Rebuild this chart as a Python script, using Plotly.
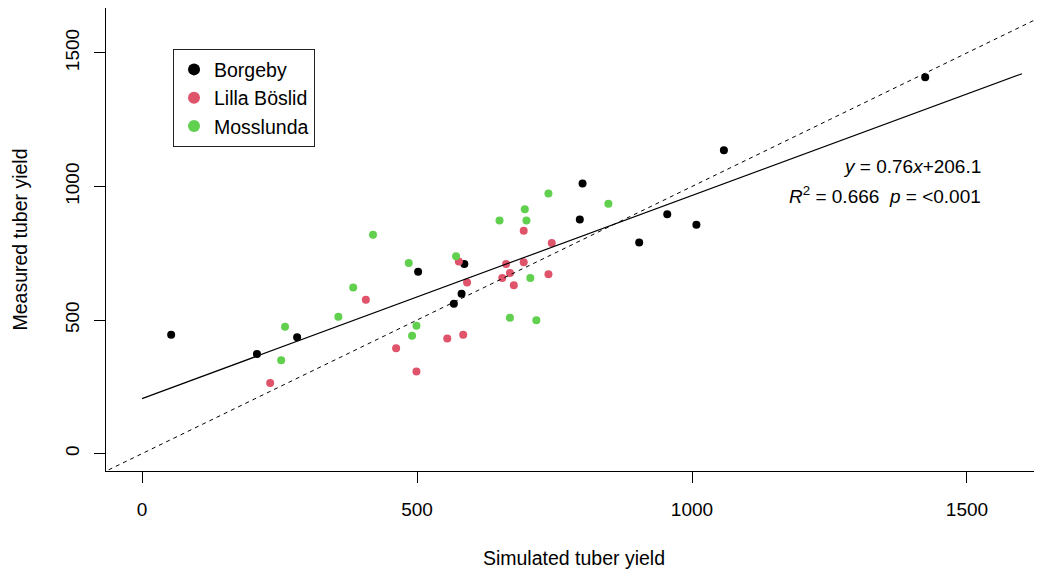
import plotly.graph_objects as go

# ---- data ----
borgeby_x = [53, 209, 282, 502, 567, 581, 586, 796, 801, 904, 955, 1008, 1058, 1424]
borgeby_y = [445, 373, 436, 681, 561, 598, 710, 876, 1011, 790, 896, 857, 1136, 1409]

lilla_x = [233, 407, 462, 499, 555, 584, 576, 591, 655, 662, 669, 676, 694, 694, 739, 745]
lilla_y = [264, 576, 394, 307, 431, 445, 719, 641, 657, 710, 676, 630, 834, 716, 671, 788]

moss_x = [253, 260, 357, 384, 420, 485, 491, 499, 571, 650, 669, 696, 699, 706, 717, 739, 848]
moss_y = [350, 475, 512, 622, 819, 714, 441, 479, 739, 873, 509, 915, 873, 657, 499, 974, 935]

site_names = ["Borgeby", "Lilla Böslid", "Mosslunda"]
site_colors = ["#000000", "#DF536B", "#61D04F"]

fit_slope = 0.76
fit_intercept = 206.1
fit_x = [0, 1600]
one_to_one = [-100, 1700]

x_ticks = [0, 500, 1000, 1500]
y_ticks = [0, 500, 1000, 1500]

FONT = "Liberation Sans, Arial, sans-serif"

fig = go.Figure()

for name, col, xs, ys in zip(site_names, site_colors,
                             [borgeby_x, lilla_x, moss_x],
                             [borgeby_y, lilla_y, moss_y]):
    fig.add_trace(go.Scatter(x=xs, y=ys, mode="markers", name=name,
                             marker=dict(color=col, size=8, line=dict(width=0))))

fig.add_trace(go.Scatter(x=fit_x, y=[fit_slope * v + fit_intercept for v in fit_x],
                         mode="lines", line=dict(color="black", width=1.2),
                         showlegend=False, hoverinfo="skip"))
fig.add_trace(go.Scatter(x=one_to_one, y=one_to_one, mode="lines",
                         line=dict(color="black", width=1, dash="4px,4px"),
                         showlegend=False, hoverinfo="skip"))

fig.add_annotation(x=1529, y=1074, xref="x", yref="y", xanchor="right", yanchor="middle",
                   text="<i>y</i> = 0.76<i>x</i>+206.1", showarrow=False,
                   font=dict(family=FONT, size=19, color="black"))
fig.add_annotation(x=1529, y=969, xref="x", yref="y", xanchor="right", yanchor="middle",
                   text="<i>R</i><sup>2</sup> = 0.666  <i>p</i> = &lt;0.001", showarrow=False,
                   font=dict(family=FONT, size=19, color="black"))

fig.update_layout(
    width=1034, height=564,
    margin=dict(l=98, r=0, t=0, b=100.5),
    plot_bgcolor="white", paper_bgcolor="white",
    font=dict(family=FONT, size=19, color="black"),
    showlegend=True,
    legend=dict(x=0.0716, y=0.911, xanchor="left", yanchor="top",
                bordercolor="#222222", borderwidth=1, bgcolor="white",
                font=dict(family=FONT, size=19.5, color="black"),
                itemsizing="constant"),
    xaxis=dict(range=[-65.5, 1636.4], tickvals=x_ticks, ticktext=[str(v) for v in x_ticks],
               showgrid=False, zeroline=False, showline=True, linecolor="black", linewidth=1.2,
               mirror=True, ticks="outside", ticklen=11, tickcolor="black", tickwidth=1,
               ticklabelstandoff=10,
               title=dict(text="Simulated tuber yield", font=dict(family=FONT, size=19.5),
                          standoff=32),
               automargin=False),
    yaxis=dict(range=[-65, 1668], tickvals=y_ticks, ticktext=[str(v) for v in y_ticks],
               tickangle=-90,
               showgrid=False, zeroline=False, showline=True, linecolor="black", linewidth=1.2,
               mirror=False, ticks="outside", ticklen=11, tickcolor="black", tickwidth=1,
               ticklabelstandoff=7,
               title=dict(text="Measured tuber yield", font=dict(family=FONT, size=19.5),
                          standoff=29),
               automargin=False),
)

fig.write_html("out.html")
